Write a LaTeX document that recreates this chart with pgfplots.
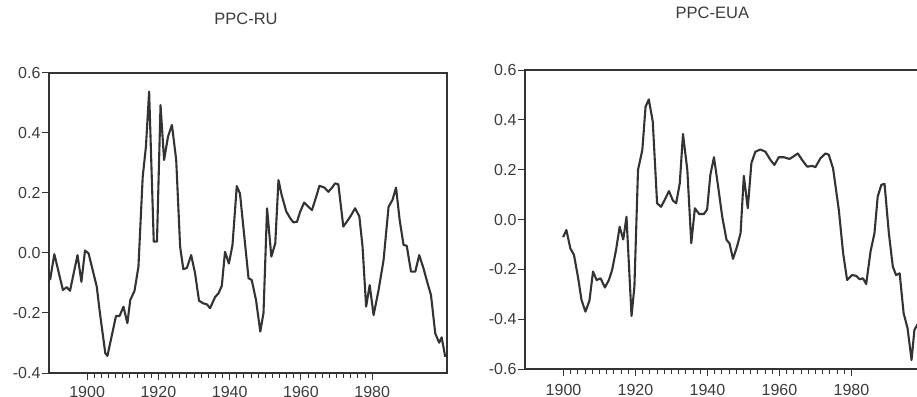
\documentclass[border=0pt]{standalone}
\usepackage{pgfplots}
\pgfplotsset{compat=1.18}
\usepackage{fontspec}
\setmainfont{Liberation Sans}
\definecolor{ink}{HTML}{333333}
\definecolor{txt}{HTML}{3C3C3C}
\pgfplotsset{
  ppc/.style={
    scale only axis,
    xmin=1889.3, xmax=2001,
    separate axis lines,
    axis line style={line width=2.4pt, draw=ink, line cap=rect},
    tick align=outside,
    xtick={1900,1920,1940,1960,1980},
    minor x tick num=9,
    xtick pos=left, ytick pos=left,
    major tick length=7pt, minor tick length=4.5pt,
    tick style={draw=ink, line width=1pt},
    tick label style={font=\fontsize{16}{16}\selectfont, text=txt},
    /pgf/number format/assume math mode=true,
    x tick label style={/pgf/number format/1000 sep={}},
    y tick label style={xshift=2pt},
    title style={font=\fontsize{16.5}{16.5}\selectfont, text=txt},
  },
  ser/.style={draw=ink, line width=2.1pt, line join=round, mark=none},
}
\begin{document}
\begin{tikzpicture}
\begin{axis}[ppc,
  at={(49pt,23pt)}, anchor=south west, width=398pt, height=300pt,
  ymin=-0.4, ymax=0.6,
  x tick label style={yshift=-3pt},
  ytick={-0.4,-0.2,0,0.2,0.4,0.6},
  yticklabels={-0.4,-0.2,0.0,0.2,0.4,0.6},
  title={PPC-RU}, title style={at={(0.495,1)}, anchor=center, yshift=48pt}]
\addplot[ser] coordinates {(1889.6,-0.09)(1890.8,-0.004)(1893.2,-0.123)(1894.3,-0.114)(1895.2,-0.126)(1897.3,-0.007)(1898.4,-0.096)(1899.4,0.008)(1900.4,-0.001)(1902.7,-0.112)(1903.6,-0.201)(1905.1,-0.334)(1905.7,-0.343)(1908.1,-0.21)(1909.1,-0.21)(1910.2,-0.179)(1911.3,-0.234)(1912.1,-0.157)(1913.3,-0.126)(1914.4,-0.046)(1915.6,0.254)(1916.5,0.354)(1917.4,0.538)(1918.7,0.038)(1919.6,0.038)(1920.6,0.493)(1921.6,0.31)(1922.7,0.388)(1923.8,0.427)(1925,0.31)(1926.1,0.021)(1927,-0.054)(1928,-0.05)(1929.2,-0.007)(1930.3,-0.068)(1931.4,-0.159)(1932.6,-0.168)(1933.6,-0.171)(1934.5,-0.184)(1935.9,-0.147)(1936.9,-0.134)(1937.8,-0.109)(1938.7,0.004)(1939.8,-0.035)(1940.8,0.027)(1942,0.223)(1942.9,0.198)(1945.3,-0.084)(1946.2,-0.09)(1947.4,-0.157)(1948.6,-0.262)(1949.5,-0.2)(1950.5,0.149)(1951.7,-0.012)(1952.8,0.032)(1953.7,0.243)(1954.6,0.193)(1955.9,0.138)(1957,0.116)(1957.9,0.102)(1958.9,0.104)(1959.8,0.138)(1960.9,0.168)(1962.1,0.154)(1963.1,0.143)(1964.3,0.188)(1965.2,0.224)(1966.6,0.218)(1967.7,0.204)(1968.6,0.216)(1969.6,0.232)(1970.5,0.229)(1971.9,0.088)(1973.1,0.108)(1974,0.124)(1975.2,0.149)(1976.4,0.122)(1977.3,0.021)(1978.3,-0.179)(1979.3,-0.107)(1980.4,-0.207)(1981.8,-0.123)(1983.2,-0.023)(1984.6,0.154)(1985.7,0.177)(1986.7,0.218)(1987.7,0.111)(1988.8,0.027)(1989.7,0.024)(1990.9,-0.062)(1992.1,-0.062)(1993.2,-0.007)(1994.4,-0.051)(1995.5,-0.099)(1996.5,-0.14)(1997.7,-0.268)(1998.8,-0.299)(1999.5,-0.281)(2000.5,-0.346)};
\end{axis}
\begin{axis}[ppc,
  at={(525pt,27pt)}, anchor=south west, width=402pt, height=299pt,
  ymin=-0.6, ymax=0.6,
  x tick label style={yshift=-5pt},
  ytick={-0.6,-0.4,-0.2,0,0.2,0.4,0.6},
  yticklabels={-0.6,-0.4,-0.2,0.0,0.2,0.4,0.6},
  title={PPC-EUA}, title style={at={(0.466,1)}, anchor=center, yshift=51pt}]
\addplot[ser] coordinates {(1899.9,-0.071)(1900.8,-0.042)(1901.9,-0.116)(1902.9,-0.142)(1904,-0.229)(1905,-0.323)(1906.1,-0.37)(1907.2,-0.326)(1908.2,-0.209)(1909.2,-0.243)(1910.3,-0.236)(1911.5,-0.273)(1912.6,-0.243)(1913.5,-0.203)(1914.6,-0.122)(1915.6,-0.029)(1916.6,-0.08)(1917.5,0.011)(1918.9,-0.387)(1919.7,-0.269)(1920.7,0.199)(1921.9,0.279)(1922.8,0.453)(1923.7,0.482)(1924.8,0.393)(1926,0.065)(1927.1,0.051)(1928.1,0.078)(1929.3,0.114)(1930.4,0.076)(1931.3,0.065)(1932.3,0.145)(1933.2,0.343)(1934.4,0.199)(1935.5,-0.095)(1936.5,0.045)(1937.7,0.022)(1939,0.022)(1939.9,0.04)(1940.8,0.179)(1941.8,0.25)(1942.9,0.139)(1944.1,0.011)(1945.3,-0.082)(1946.1,-0.095)(1947.1,-0.158)(1948.2,-0.109)(1949.2,-0.055)(1950.1,0.175)(1951.2,0.045)(1952.2,0.226)(1953.3,0.272)(1954.7,0.281)(1956.1,0.272)(1957.5,0.239)(1958.6,0.219)(1959.8,0.25)(1961.2,0.25)(1962.8,0.243)(1964,0.254)(1965.1,0.265)(1966.3,0.239)(1967.7,0.212)(1969.1,0.215)(1970,0.21)(1971.4,0.246)(1972.8,0.265)(1973.7,0.26)(1974.9,0.205)(1976.5,0.038)(1977.7,-0.136)(1978.8,-0.243)(1980.2,-0.223)(1981.3,-0.226)(1982.3,-0.24)(1983.2,-0.236)(1984.1,-0.259)(1985.3,-0.129)(1986.4,-0.055)(1987.3,0.092)(1988.3,0.139)(1989.2,0.143)(1990.4,-0.055)(1991.5,-0.189)(1992.4,-0.223)(1993.4,-0.216)(1994.5,-0.376)(1995.6,-0.437)(1996.7,-0.564)(1997.5,-0.443)(1998.3,-0.423)(1999.3,-0.40)};
\end{axis}
\pgfresetboundingbox
\useasboundingbox (0,0) rectangle (917pt,396pt);
\end{tikzpicture}
\end{document}
